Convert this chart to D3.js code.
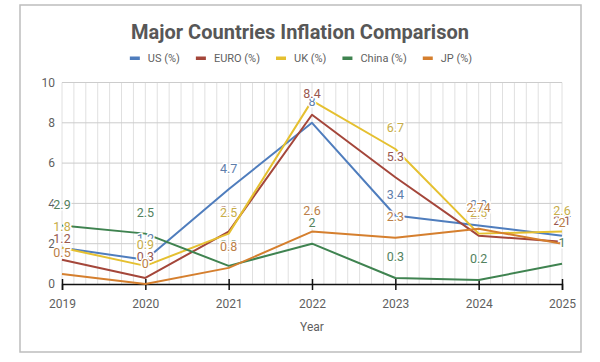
<!DOCTYPE html>
<html>
<head>
<meta charset="utf-8">
<script src="https://cdn.jsdelivr.net/npm/d3@7"></script>
<style>
  html, body { margin: 0; padding: 0; background: #fff; }
  svg { display: block; font-family: Roboto, "Noto Sans", Arial, sans-serif; }
</style>
</head>
<body>
<svg id="chart" width="600" height="362"></svg>
<script>
// ---- data ----
const years = ["2019", "2020", "2021", "2022", "2023", "2024", "2025"];
const seriesNames = ["US (%)", "EURO (%)", "UK (%)", "China (%)", "JP (%)"];
const usValues    = [1.8, 1.2, 4.7, 8.0, 3.4, 2.9, 2.4];
const euroValues  = [1.2, 0.3, 2.6, 8.4, 5.3, 2.4, 2.1];
const ukValues    = [1.8, 0.9, 2.5, 9.1, 6.7, 2.5, 2.6];
const chinaValues = [2.9, 2.5, 0.9, 2.0, 0.3, 0.2, 1.0];
const jpValues    = [0.5, 0.0, 0.8, 2.6, 2.3, 2.74, 2.0];
const yTicks = [0, 2, 4, 6, 8, 10];
const titleText = "Major Countries Inflation Comparison";
const xTitle = "Year";

const colors = ["#4f7dbd", "#a4463a", "#e5c030", "#3f8350", "#d57f2e"];
const allValues = [usValues, euroValues, ukValues, chinaValues, jpValues];
const series = seriesNames.map((n, i) => ({ name: n, values: allValues[i], color: colors[i] }));

// ---- layout ----
const svg = d3.select("#chart");
const plot = { left: 62, right: 562, top: 82.5, bottom: 284 };

// frame
svg.append("rect").attr("x", 20).attr("y", 5).attr("width", 561).attr("height", 347)
  .attr("fill", "#fff").attr("stroke", "#bdbdbd").attr("stroke-width", 1.5);

const x = d3.scalePoint().domain(years).range([plot.left, plot.right]).padding(0);
const y = d3.scaleLinear().domain([0, 10]).range([plot.bottom, plot.top]);
const xi = d3.scaleLinear().domain([0, years.length - 1]).range([plot.left, plot.right]);

// minor vertical gridlines
const minorSteps = d3.range(0, (years.length - 1) * 7 + 1).map(k => k / 7);
svg.append("g").selectAll("line").data(minorSteps).join("line")
  .attr("x1", d => xi(d)).attr("x2", d => xi(d))
  .attr("y1", plot.top).attr("y2", plot.bottom)
  .attr("stroke", "#e0e0e0").attr("stroke-width", 1);

// horizontal gridlines
svg.append("g").selectAll("line").data(yTicks.filter(t => t > 0)).join("line")
  .attr("x1", plot.left).attr("x2", plot.right)
  .attr("y1", d => y(d)).attr("y2", d => y(d))
  .attr("stroke", "#cccccc").attr("stroke-width", 1);

// y axis labels
const yAxis = d3.axisLeft(y).tickValues(yTicks).tickSize(0).tickPadding(7);
const gy = svg.append("g").attr("transform", `translate(${plot.left},0)`).call(yAxis);
gy.select(".domain").remove();
gy.selectAll("text").attr("font-size", 12).attr("fill", "#5f5f5f").attr("font-family", "Roboto, sans-serif");

// x axis
const xAxis = d3.axisBottom(x).tickSize(6).tickPadding(9);
const gx = svg.append("g").attr("transform", `translate(0,${plot.bottom})`).call(xAxis);
gx.select(".domain").attr("stroke", "#111").attr("stroke-width", 1.5);
gx.selectAll(".tick line").attr("stroke", "#111").attr("stroke-width", 1.5).attr("y1", -5).attr("y2", 6);
gx.selectAll("text").attr("font-size", 12).attr("fill", "#5f5f5f").attr("font-family", "Roboto, sans-serif");

// axis title
svg.append("text").attr("x", (plot.left + plot.right) / 2).attr("y", 331)
  .attr("text-anchor", "middle").attr("font-size", 12).attr("fill", "#5f5f5f").text(xTitle);

// lines
const line = d3.line().x((d, i) => x(years[i])).y(d => y(d));
svg.append("g").selectAll("path").data(series).join("path")
  .attr("d", d => line(d.values)).attr("fill", "none")
  .attr("stroke", d => d.color).attr("stroke-width", 2).attr("stroke-linejoin", "round");

// value labels
const labelData = [];
series.forEach(s => s.values.forEach((v, i) => labelData.push({ v, i, color: s.color })));
svg.append("g").selectAll("text").data(labelData.filter(d => y(d.v) - 21 >= plot.top)).join("text")
  .attr("x", d => x(years[d.i])).attr("y", d => y(d.v) - 16.5)
  .attr("text-anchor", "middle").attr("font-size", 12.5)
  .attr("fill", d => d3.interpolateRgb(d.color, "#808080")(0.3))
  .attr("stroke", "#fff").attr("stroke-width", 3).attr("paint-order", "stroke")
  .text(d => String(d.v));

// title
svg.append("text").attr("x", 300).attr("y", 39).attr("text-anchor", "middle")
  .attr("font-size", 20).attr("font-weight", "bold").attr("fill", "#575757")
  .attr("font-family", "Roboto, Arial, sans-serif").text(titleText);

// legend
const legend = svg.append("g");
let lx = 0;
series.forEach(s => {
  const g = legend.append("g");
  g.append("rect").attr("x", 0).attr("y", -1.5).attr("width", 10).attr("height", 3.5).attr("fill", s.color);
  const t = g.append("text").attr("x", 18).attr("y", 4).attr("font-size", 11).attr("fill", "#5f5f5f").text(s.name);
  const w = 18 + t.node().getComputedTextLength();
  g.attr("transform", `translate(${lx},0)`);
  lx += w + 16;
});
const totalW = lx - 16;
legend.attr("transform", `translate(${301 - totalW / 2},58)`);
</script>
</body>
</html>
